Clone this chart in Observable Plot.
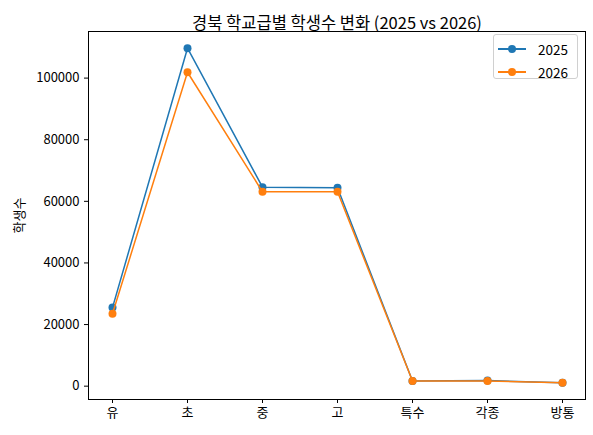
<!DOCTYPE html>
<html>
<head>
<meta charset="utf-8">
<script src="https://cdn.jsdelivr.net/npm/d3@7"></script>
<script src="https://cdn.jsdelivr.net/npm/@observablehq/plot@0.6"></script>
<style>
  body { margin: 0; background: #fff; }
  #wrap { position: relative; width: 593px; height: 435px; font-family: "Noto Sans CJK KR", "Noto Sans", sans-serif; }
  #legend {
    position: absolute; left: 493px; top: 34px; width: 83px; height: 43px;
    border: 1px solid #d0d0d0; border-radius: 3px; background: rgba(255,255,255,0.8);
    font-size: 13.5px; color: #000;
  }
  .row { position: absolute; left: 0; height: 20px; display: flex; align-items: center; }
  .key { position: relative; width: 28px; height: 20px; margin-left: 4px; }
  .key .ln { position: absolute; left: 0; right: 0; top: 9px; height: 1.5px; }
  .key .mk { position: absolute; left: 10px; top: 6px; width: 8px; height: 8px; border-radius: 50%; }
  .lab { margin-left: 12px; }
</style>
</head>
<body>
<div id="wrap">
  <div id="myplot"></div>
  <div id="legend"></div>
</div>
<script>
const categories = ["유", "초", "중", "고", "특수", "각종", "방통"];
const years = ["2025", "2026"];
const values2025 = [25500, 109700, 64600, 64400, 1700, 1800, 1100];
const values2026 = [23500, 101900, 63100, 63100, 1700, 1700, 1100];
const yTicks = [0, 20000, 40000, 60000, 80000, 100000];
const colors = ["#1f77b4", "#ff7f0e"];

const data = [
  ...categories.map((c, i) => ({ cat: c, year: "2025", value: values2025[i] })),
  ...categories.map((c, i) => ({ cat: c, year: "2026", value: values2026[i] })),
];

// matplotlib-like 5% margins around the data
const lo = d3.min(data, (d) => d.value);
const hi = d3.max(data, (d) => d.value);
const pad = (hi - lo) * 0.05;

const seriesMarks = years.flatMap((y, i) => {
  const rows = data.filter((d) => d.year === y);
  return [
    Plot.line(rows, { x: "cat", y: "value", stroke: colors[i], strokeWidth: 1.5 }),
    Plot.dot(rows, { x: "cat", y: "value", fill: colors[i], r: 4 }),
  ];
});

const plot = Plot.plot({
  width: 593,
  height: 435,
  marginLeft: 88,
  marginRight: 8,
  marginTop: 31,
  marginBottom: 36,
  style: { fontFamily: "'Noto Sans CJK KR', 'Noto Sans', sans-serif", fontSize: "13px", color: "#000", background: "#fff" },
  x: { type: "point", domain: categories, padding: 0.3 },
  y: { domain: [lo - pad, hi + pad] },
  marks: [
    Plot.axisX({ tickSize: 4, tickPadding: 4, label: null, fontSize: 13 }),
    Plot.axisY({
      ticks: yTicks,
      tickFormat: (d) => String(d),
      tickSize: 4,
      tickPadding: 5,
      label: "학생수",
      labelAnchor: "center",
      labelOffset: 74,
      labelArrow: "none",
      fontSize: 13,
    }),
    ...seriesMarks,
    Plot.frame({ stroke: "#000", strokeWidth: 1 }),
    Plot.text(["경북 학교급별 학생수 변화 (2025 vs 2026)"], {
      frameAnchor: "top",
      dy: -14,
      fontSize: 16.5,
      fill: "#000",
    }),
  ],
});

document.querySelector("#myplot").append(plot);

// legend box in the upper right, like matplotlib's
const legend = document.querySelector("#legend");
years.forEach((y, i) => {
  const row = document.createElement("div");
  row.className = "row";
  row.style.top = (4 + i * 23) + "px";
  row.innerHTML =
    `<div class="key"><div class="ln" style="background:${colors[i]}"></div>` +
    `<div class="mk" style="background:${colors[i]}"></div></div>` +
    `<span class="lab">${y}</span>`;
  legend.append(row);
});
</script>
</body>
</html>
